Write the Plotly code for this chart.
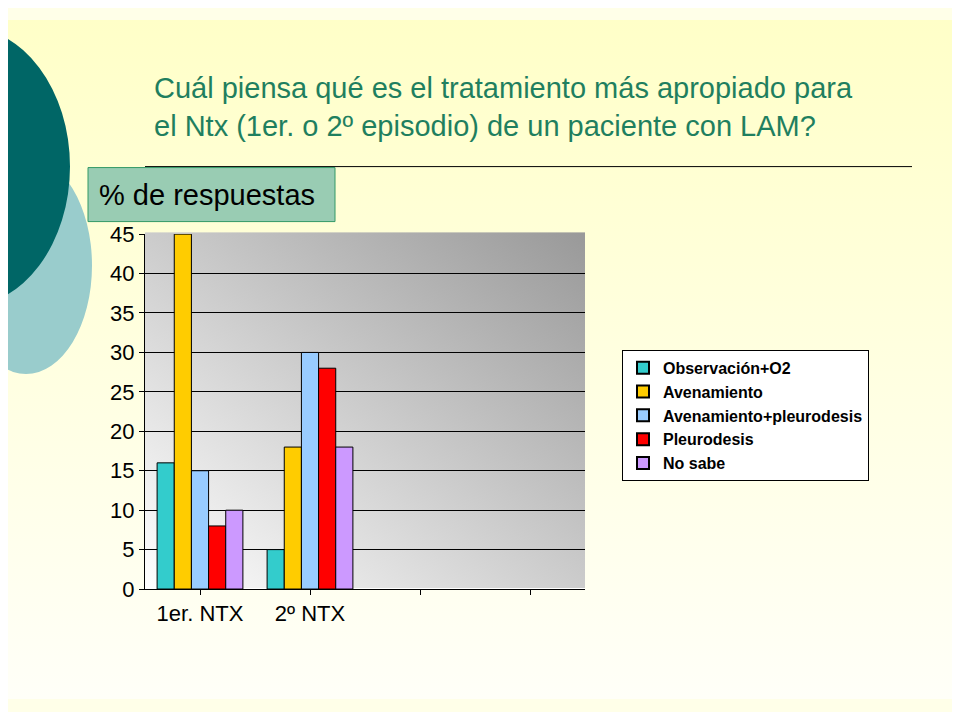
import plotly.graph_objects as go

categories = ["1er. NTX", "2º NTX", " ", "  "]
series_names = ["Observación+O2", "Avenamiento", "Avenamiento+pleurodesis", "Pleurodesis", "No sabe"]
series_values = [
    [16, 5, None, None],
    [45, 18, None, None],
    [15, 30, None, None],
    [8, 28, None, None],
    [10, 18, None, None],
]
colors = ["#33CCCC", "#FFCC00", "#99CCFF", "#FF0000", "#CC99FF"]

OFF = 8
W, H = 960 - 2 * OFF, 720 - 2 * OFF
def px(x): return (x - OFF) / W
def py(y): return 1 - (y - OFF) / H

fig = go.Figure()
for name, vals, c in zip(series_names, series_values, colors):
    fig.add_trace(go.Bar(x=categories, y=vals, name=name, marker=dict(color=c, line=dict(color="black", width=1))))

bg_svg = ("data:image/svg+xml;utf8,<svg xmlns='http://www.w3.org/2000/svg' width='100' height='100' preserveAspectRatio='none'>"
          "<defs><linearGradient id='g' x1='0' y1='0' x2='0' y2='1'><stop offset='0' stop-color='%23FFFFC8'/>"
          "<stop offset='1' stop-color='%23FFFFF8'/></linearGradient></defs><rect width='100' height='100' fill='url(%23g)'/></svg>")
plot_svg = ("data:image/svg+xml;utf8,<svg xmlns='http://www.w3.org/2000/svg' width='100' height='100' preserveAspectRatio='none'>"
            "<defs><linearGradient id='g' x1='0' y1='1' x2='1' y2='0'><stop offset='0' stop-color='%23FFFFFF'/>"
            "<stop offset='1' stop-color='%23999999'/></linearGradient></defs><rect width='100' height='100' fill='url(%23g)'/></svg>")

narrow = "Liberation Sans Narrow, Arial Narrow, sans-serif"
fig.update_layout(
    width=W, height=H, margin=dict(l=0, r=0, t=0, b=0),
    paper_bgcolor="#FFFFE8", plot_bgcolor="rgba(0,0,0,0)",
    barmode="group", bargap=0.22, bargroupgap=0,
    images=[
        dict(source=bg_svg, xref="paper", yref="paper", x=0, y=1, sizex=1, sizey=1, sizing="stretch", layer="below"),
        dict(source=plot_svg, xref="paper", yref="paper", x=px(145), y=py(228), sizex=px(585)-px(145), sizey=py(228)-py(598), sizing="stretch", layer="below"),
    ],
    xaxis=dict(domain=[px(145), px(585)], showline=True, linecolor="black", ticks="outside", tickcolor="black",
               tickfont=dict(family=narrow, size=22, color="black")),
    yaxis=dict(domain=[py(598), py(230)], range=[0, 45], dtick=5, showline=True, linecolor="black", ticks="outside",
               tickcolor="black", gridcolor="black", gridwidth=1,
               tickfont=dict(family=narrow, size=22, color="black")),
    legend=dict(x=px(622), y=py(350), xanchor="left", yanchor="top", bgcolor="white", bordercolor="black", borderwidth=1,
                font=dict(family="Arial, Liberation Sans, sans-serif", size=16, color="black", weight="bold"),
                tracegroupgap=0, itemsizing="constant"),
    shapes=[
        dict(type="circle", xref="paper", yref="paper", x0=px(-40), x1=px(92), y0=py(375), y1=py(150),
             fillcolor="#99CCCC", line=dict(width=0), layer="above"),
        dict(type="circle", xref="paper", yref="paper", x0=px(-140), x1=px(70), y0=py(305), y1=py(15),
             fillcolor="#006666", line=dict(width=0), layer="above"),
        dict(type="line", xref="paper", yref="paper", x0=px(145), x1=px(912), y0=py(160), y1=py(160),
             line=dict(color="black", width=1)),
        dict(type="rect", xref="paper", yref="paper", x0=px(88), x1=px(335), y0=py(217), y1=py(161),
             fillcolor="#99CCB3", line=dict(color="#339966", width=1)),
    ],
    annotations=[
        dict(text="Cuál piensa qué es el tratamiento más apropiado para<br>el Ntx (1er. o 2º episodio) de un paciente con LAM?",
             xref="paper", yref="paper", x=px(152), y=py(60), xanchor="left", yanchor="top", align="left", showarrow=False,
             font=dict(family="Liberation Sans, Arial, sans-serif", size=29, color="#1F7F5F")),
        dict(text="% de respuestas", xref="paper", yref="paper", x=px(97), y=py(189), xanchor="left", yanchor="middle",
             showarrow=False, font=dict(family="Liberation Sans, Arial, sans-serif", size=29, color="black")),
    ],
)
fig.write_html("out.html")
